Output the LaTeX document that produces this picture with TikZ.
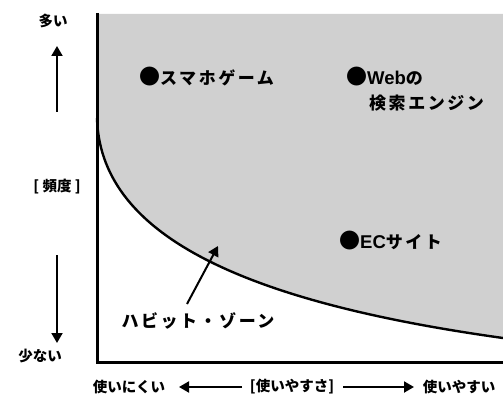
\documentclass[tikz,border=0pt]{standalone}
\usepackage{fontspec}
\setmainfont{Noto Sans CJK JP}
\newfontfamily\itemfont{Noto Sans CJK JP}[LetterSpace=15]
\newfontfamily\latnfont{Liberation Sans}
\newcommand{\dotmark}{{\fontsize{21}{20}\selectfont\raisebox{-0.5pt}{●}}}
\newcommand{\latn}[1]{{\latnfont\bfseries\fontsize{18.5}{20}\selectfont #1}}
\usetikzlibrary{arrows.meta}
\definecolor{zone}{RGB}{208,208,208}
\begin{document}
\begin{tikzpicture}[x=1pt,y=-1pt,
  lbl/.style={font=\itemfont\bfseries\fontsize{17}{20}\selectfont, inner sep=0pt},
  axlbl/.style={font=\bfseries\fontsize{14.5}{16}\selectfont, inner sep=0pt},
  axis/.style={line width=3pt},
  arr/.style={line width=2pt,-{Triangle[length=10pt,width=11pt]}}]
\useasboundingbox (0,0) rectangle (503,401);
% grey zone
\fill[zone] (97,14) -- (503,14) -- (503,338) .. controls (230,300) and (100,230) .. (97,118) -- cycle;
\draw[line width=2.4pt] (97,118) .. controls (100,230) and (230,300) .. (503,338);
% axes
\coordinate (ytop) at (97,13);
\coordinate (orig) at (97,362);
\coordinate (xend) at (503,362);
\draw[axis] (ytop) -- (orig) -- (xend);
% vertical axis labels
\node[axlbl] (many) at (53,21) {多い};
\node[axlbl] (freq) at (57,187) {[ 頻度 ]};
\node[axlbl] (few) at (40,356) {少ない};
\coordinate (upa) at (57,112);
\coordinate (upb) at (57,46);
\coordinate (dna) at (57,255);
\coordinate (dnb) at (57,343);
\draw[arr] (upa) -- (upb);
\draw[arr] (dna) -- (dnb);
% horizontal axis labels
\node[axlbl] (hard) at (129,387) {使いにくい};
\node[axlbl] (ease) at (292,387) {[使いやすさ]};
\node[axlbl] (easy) at (459,387) {使いやすい};
\coordinate (la) at (242,387);
\coordinate (lb) at (179,387);
\coordinate (ra) at (343,387);
\coordinate (rb) at (414,387);
\draw[arr] (la) -- (lb);
\draw[arr] (ra) -- (rb);
% items
\node[lbl, anchor=west] (game) at (139,77) {\dotmark スマホゲーム};
\node[lbl, anchor=west] (web) at (346,77) {\dotmark\latn{Web}の};
\node[lbl, anchor=west] (search) at (369,103) {検索エンジン};
\node[lbl, anchor=west] (ec) at (339,241) {\dotmark\latn{EC}サイト};
% habit zone
\node[lbl] (habit) at (198,321) {ハビット・ゾーン};
\coordinate (ht) at (187,304);
\coordinate (hh) at (218,246);
\draw[arr] (ht) -- (hh);
\end{tikzpicture}
\end{document}
